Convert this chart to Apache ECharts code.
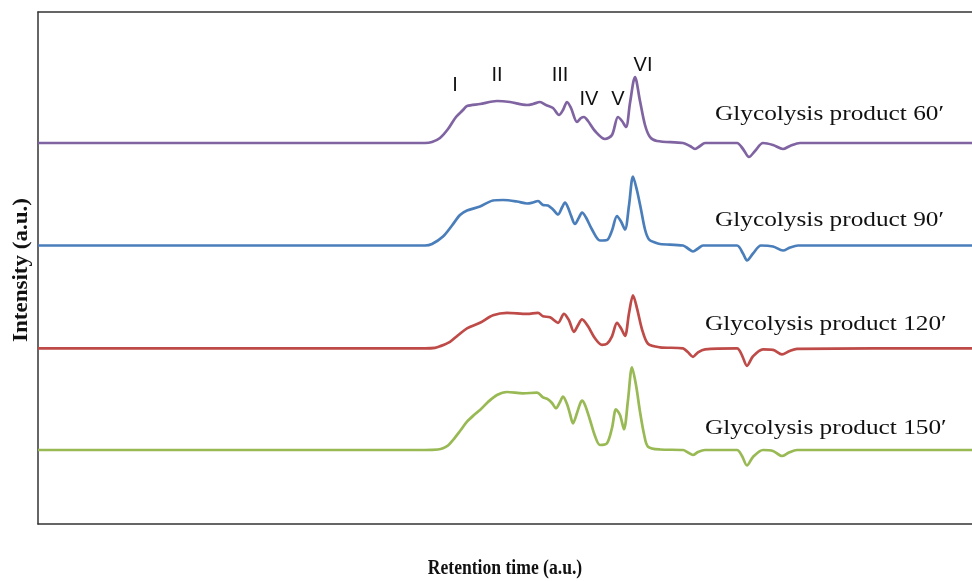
<!DOCTYPE html>
<html>
<head>
<meta charset="utf-8">
<script src="https://cdn.jsdelivr.net/npm/echarts@6/dist/echarts.min.js"></script>
<style>
html,body{margin:0;padding:0;background:#fff;}
#chart{width:972px;height:581px;}
</style>
</head>
<body>
<div id="chart"></div>
<script>
// traces: [retention time, intensity above own baseline]
var trace60=[[0,0],[387,0],[394,1],[402,5],[410,14],[418,26],[425,33],[429,37],[442,39],[459,42],[472,41],[489,38],
    [495,39],[502,41],[508,38],[515,35],[521,28],[525,33],[529,41],[533,35],[539,21],[543,25],[546,26],[550,22],
    [557,12],[567,4],[574,8],[580,26],[584,22],[588,16],[592,40],[597,66],[602,42],[607,18],[612,6],[619,2],
    [645,0],[652,-3],[657,-6],[662,-3],[667,0],[699,0],[705,-6],[711,-14],[717,-8],[725,0],[735,-2],[745,-6],
    [752,-3],[762,0],[934,0]];
var trace90=[[0,0],[387,0],[394,1.5],[405,9],[414,20],[422,30.5],[429,35],[442,39],[455,45],[465,45.5],[479,44],
    [489,42],[495,43],[500,44.5],[505,40.5],[510,40],[515,36],[520,31],[524,38],[527,43],[530,38],[533,30],
    [537,21.5],[541,28],[544,33],[548,28],[554,16],[562,5],[569,5.5],[574,15],[579,29.5],[583,24],[587,16],
    [591,40],[595,69],[599,55],[603,36],[607,16],[611,6],[617,3],[622,1.5],[645,0],[650,-3],[655,-6],[660,-3],
    [665,0],[699,0],[705,-8],[709,-15],[715,-8],[723,0],[735,-1],[745,-5],[752,-2],[760,0],[934,0]];
var trace120=[[0,0],[387,0],[397,0.5],[402,2],[412,6.5],[420,13],[429,20],[442,25.5],[455,33],[469,35.5],[489,34.5],
    [500,35.5],[505,32],[512,31],[520,25.5],[526,34.5],[531,28],[536,16.5],[540,23],[544,29],[550,22],[557,10],
    [564,3.5],[569,4.5],[574,12],[579,25.5],[583,20],[587,12.5],[591,35],[595,53],[599,40],[604,19],[610,4.5],
    [622,1],[645,0],[650,-4],[655,-8.5],[660,-4],[667,-1],[699,0],[704,-7],[709,-17.5],[715,-8],[725,-1],
    [735,-1.5],[744,-6],[751,-3],[759,-0.5],[934,0]];
var trace150=[[0,0],[387,0],[400,0.5],[405,1.7],[410,4.5],[415,10],[422,19],[429,28.3],[436,35],[442,40],[450,48],
    [459,55],[469,58],[485,56.7],[499,57.3],[505,52.7],[510,50.7],[514,47],[518,41.7],[522,48],[525,53.3],
    [529,46],[532,36],[535,26.7],[539,37],[542,46],[544,49.3],[547,45],[552,30],[557,14],[562,5],[569,6.7],
    [574,22],[578,40.7],[582,35],[586,20.7],[590,50],[594,82.7],[598,65],[602,38.3],[606,16],[610,3.3],[622,0.5],
    [645,0],[650,-2.5],[655,-5],[660,-2],[667,0],[699,0],[704,-6],[709,-15.5],[715,-7],[725,0],[735,-1],
    [744,-6],[751,-2.5],[759,0],[934,0]];

var seriesNames=['Glycolysis product 60\u2032','Glycolysis product 90\u2032','Glycolysis product 120\u2032','Glycolysis product 150\u2032'];
var baselines=[381,278.5,175.7,74];   // vertical offsets of the stacked traces
var peakLabels=['I','II','III','IV','V','VI'];

var colors=['#8064A2','#4A7EBB','#BE4B48','#98B954'];
var traces=[trace60,trace90,trace120,trace150];

var chart=echarts.init(document.getElementById('chart'));

var series=traces.map(function(t,i){
    return {
        name:seriesNames[i],
        type:'line',
        smooth:0.3,
        showSymbol:false,
        silent:true,
        lineStyle:{color:colors[i],width:2.7},
        data:t.map(function(p){return [p[0],baselines[i]+p[1]];})
    };
});

var serif='"Liberation Serif","Times New Roman",serif';
var sans='"Liberation Sans",Arial,sans-serif';

// annotation text placed on the canvas
var labelPos=[[715,114],[715,220],[705,324],[705,428]];
var peakPos=[[455,85],[497,75],[560,75],[589,99],[618,99],[643,65]];
var graphics=[];
seriesNames.forEach(function(n,i){
    graphics.push({type:'text',x:labelPos[i][0],y:labelPos[i][1],scaleX:1.15,
        style:{text:n,font:'22px '+serif,fill:'#111',textVerticalAlign:'middle'}});
});
peakLabels.forEach(function(n,i){
    graphics.push({type:'text',x:peakPos[i][0],y:peakPos[i][1],
        style:{text:n,font:'20px '+sans,fill:'#111',textAlign:'center',textVerticalAlign:'middle'}});
});
graphics.push({type:'text',x:22,y:270,rotation:Math.PI/2,scaleX:1.15,
    style:{text:'Intensity (a.u.)',font:'bold 20px '+serif,fill:'#111',textAlign:'center',textVerticalAlign:'middle'}});
graphics.push({type:'text',x:505,y:569,scaleX:0.88,
    style:{text:'Retention time (a.u.)',font:'bold 20px '+serif,fill:'#111',textAlign:'center',textVerticalAlign:'middle'}});

var option={
    animation:false,
    backgroundColor:'#fff',
    grid:{left:38,top:12,right:0,bottom:57,outerBoundsMode:'none',containLabel:false},
    xAxis:[{
        type:'value',min:0,max:934,
        axisLine:{show:true,onZero:false,lineStyle:{color:'#333',width:1.5}},
        axisTick:{show:false},axisLabel:{show:false},splitLine:{show:false}
    },{
        type:'value',min:0,max:934,position:'top',
        axisLine:{show:true,onZero:false,lineStyle:{color:'#333',width:1.5}},
        axisTick:{show:false},axisLabel:{show:false},splitLine:{show:false}
    }],
    yAxis:{
        type:'value',min:0,max:512,
        axisLine:{show:true,onZero:false,lineStyle:{color:'#333',width:1.5}},
        axisTick:{show:false},axisLabel:{show:false},splitLine:{show:false}
    },
    graphic:graphics,
    series:series
};
chart.setOption(option);
</script>
</body>
</html>
